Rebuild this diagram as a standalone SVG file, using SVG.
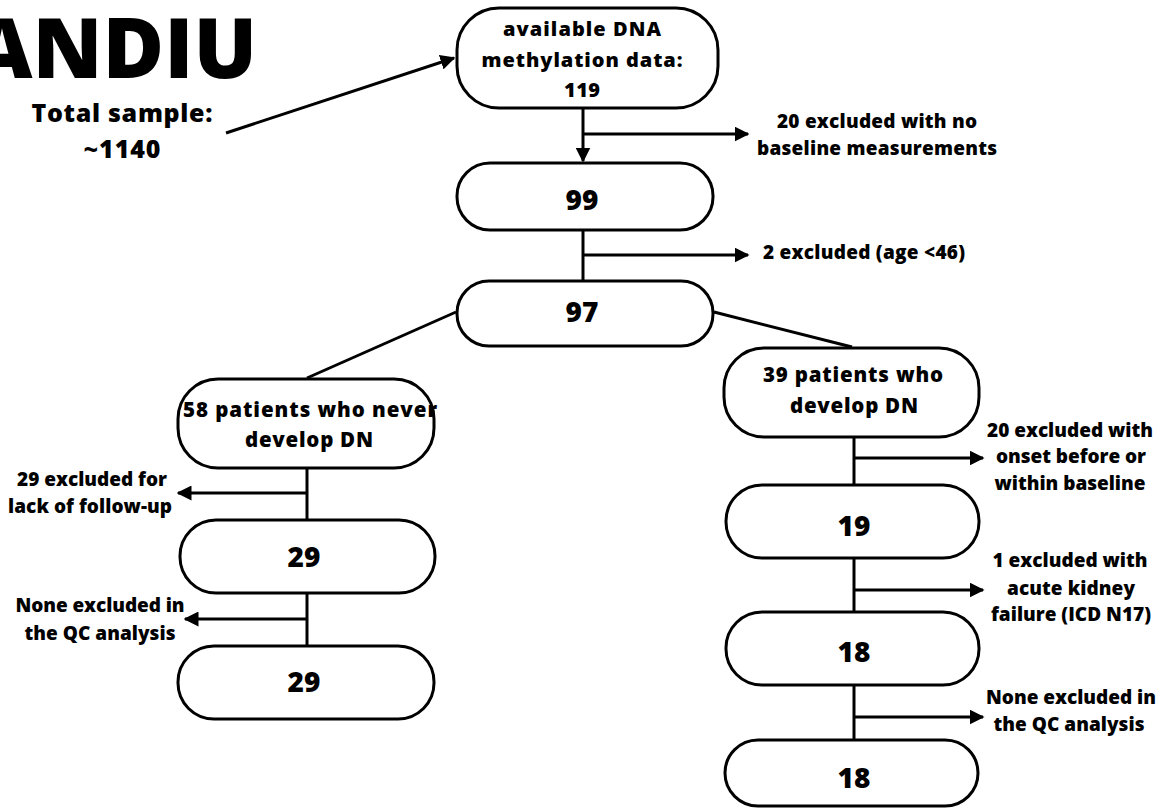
<svg xmlns="http://www.w3.org/2000/svg" width="1166" height="810" viewBox="0 0 1166 810">
<style>
text{font-family:"Open Sans","Liberation Sans",sans-serif;font-weight:800;fill:#000}
.box{fill:#fff;stroke:#000;stroke-width:3}
.ln{fill:none;stroke:#000;stroke-width:3}
.t{font-size:19px;text-anchor:middle}
.bt{font-size:20.5px;text-anchor:middle}
.tb{font-size:20px;text-anchor:middle}
.num{font-size:28px;text-anchor:middle}
</style>
<defs>
<marker id="ah" viewBox="0 0 10 10" refX="9" refY="5" markerWidth="5" markerHeight="5" orient="auto" markerUnits="strokeWidth">
<path d="M0,0 L10,5 L0,10 Z" fill="#000"/>
</marker>
</defs>
<rect width="1166" height="810" fill="#fff"/>
<g id="title">
<text x="257" y="78" font-size="84" text-anchor="end">ANDIU</text>
<text x="122" y="122" font-size="25" text-anchor="middle" textLength="181" lengthAdjust="spacing">Total sample:</text>
<text x="122" y="158" font-size="25" text-anchor="middle" textLength="77" lengthAdjust="spacing">~1140</text>
</g>
<g id="connectors">
<line class="ln" x1="226" y1="133" x2="454" y2="58" marker-end="url(#ah)"/>
<line class="ln" x1="583" y1="108" x2="583" y2="161" marker-end="url(#ah)"/>
<line class="ln" x1="583" y1="134" x2="748" y2="134" marker-end="url(#ah)"/>
<line class="ln" x1="583" y1="230" x2="583" y2="281"/>
<line class="ln" x1="583" y1="255" x2="748" y2="255" marker-end="url(#ah)"/>
<line class="ln" x1="456" y1="312" x2="307" y2="378"/>
<line class="ln" x1="714" y1="312" x2="852" y2="347"/>
<line class="ln" x1="307" y1="468" x2="307" y2="520"/>
<line class="ln" x1="307" y1="493" x2="178" y2="493" marker-end="url(#ah)"/>
<line class="ln" x1="307" y1="593" x2="307" y2="646"/>
<line class="ln" x1="307" y1="619" x2="185" y2="619" marker-end="url(#ah)"/>
<line class="ln" x1="854" y1="433" x2="854" y2="485"/>
<line class="ln" x1="854" y1="458" x2="983" y2="458" marker-end="url(#ah)"/>
<line class="ln" x1="854" y1="558" x2="854" y2="612"/>
<line class="ln" x1="854" y1="590" x2="983" y2="590" marker-end="url(#ah)"/>
<line class="ln" x1="854" y1="685" x2="854" y2="740"/>
<line class="ln" x1="854" y1="717" x2="983" y2="717" marker-end="url(#ah)"/>
</g>
<g id="n119">
<rect class="box" x="457" y="8" width="261" height="100" rx="42"/>
<text class="tb" x="582" y="36" textLength="158" lengthAdjust="spacing">available DNA</text>
<text class="tb" x="582" y="67" textLength="201" lengthAdjust="spacing">methylation data:</text>
<text class="tb" x="582" y="97" textLength="36" lengthAdjust="spacing">119</text>
</g>
<g id="n99">
<rect class="box" x="457" y="163" width="256" height="67" rx="33"/>
<text class="num" x="582" y="210">99</text>
</g>
<g id="n97">
<rect class="box" x="457" y="281" width="256" height="65" rx="32"/>
<text class="num" x="582" y="322">97</text>
</g>
<g id="ex1">
<text class="t" x="877" y="128" textLength="200" lengthAdjust="spacing">20 excluded with no</text>
<text class="t" x="877" y="155" textLength="240" lengthAdjust="spacing">baseline measurements</text>
</g>
<g id="ex2">
<text x="763" y="259" font-size="19" textLength="202" lengthAdjust="spacing">2 excluded (age &lt;46)</text>
</g>
<g id="n58">
<rect class="box" x="178" y="379" width="256" height="89" rx="40"/>
<text class="bt" x="310" y="417" textLength="254" lengthAdjust="spacing">58 patients who never</text>
<text class="bt" x="309" y="447" textLength="128" lengthAdjust="spacing">develop DN</text>
</g>
<g id="ex3">
<text class="t" x="92" y="486" textLength="150" lengthAdjust="spacing">29 excluded for</text>
<text class="t" x="90" y="513" textLength="164" lengthAdjust="spacing">lack of follow-up</text>
</g>
<g id="n29a">
<rect class="box" x="180" y="520" width="255" height="73" rx="36"/>
<text class="num" x="304" y="567">29</text>
</g>
<g id="ex4">
<text class="t" x="100" y="612" textLength="169" lengthAdjust="spacing">None excluded in</text>
<text class="t" x="100" y="640" textLength="151" lengthAdjust="spacing">the QC analysis</text>
</g>
<g id="n29b">
<rect class="box" x="178" y="646" width="256" height="73" rx="36"/>
<text class="num" x="304" y="692">29</text>
</g>
<g id="n39">
<rect class="box" x="724" y="348" width="255" height="89" rx="40"/>
<text class="bt" x="853" y="382" textLength="180" lengthAdjust="spacing">39 patients who</text>
<text class="bt" x="854" y="413" textLength="128" lengthAdjust="spacing">develop DN</text>
</g>
<g id="ex5">
<text class="t" x="1070" y="437" textLength="166" lengthAdjust="spacing">20 excluded with</text>
<text class="t" x="1071" y="463" textLength="150" lengthAdjust="spacing">onset before or</text>
<text class="t" x="1070" y="490" textLength="151" lengthAdjust="spacing">within baseline</text>
</g>
<g id="n19">
<rect class="box" x="726" y="485" width="253" height="73" rx="36"/>
<text class="num" x="854" y="536">19</text>
</g>
<g id="ex6">
<text class="t" x="1070" y="567" textLength="155" lengthAdjust="spacing">1 excluded with</text>
<text class="t" x="1071" y="595" textLength="128" lengthAdjust="spacing">acute kidney</text>
<text class="t" x="1071" y="621" textLength="160" lengthAdjust="spacing">failure (ICD N17)</text>
</g>
<g id="n18a">
<rect class="box" x="726" y="612" width="253" height="73" rx="36"/>
<text class="num" x="854" y="662">18</text>
</g>
<g id="ex7">
<text class="t" x="1071" y="704" textLength="170" lengthAdjust="spacing">None excluded in</text>
<text class="t" x="1069" y="731" textLength="151" lengthAdjust="spacing">the QC analysis</text>
</g>
<g id="n18b">
<rect class="box" x="725" y="740" width="253" height="66" rx="33"/>
<text class="num" x="854" y="788">18</text>
</g>
</svg>
